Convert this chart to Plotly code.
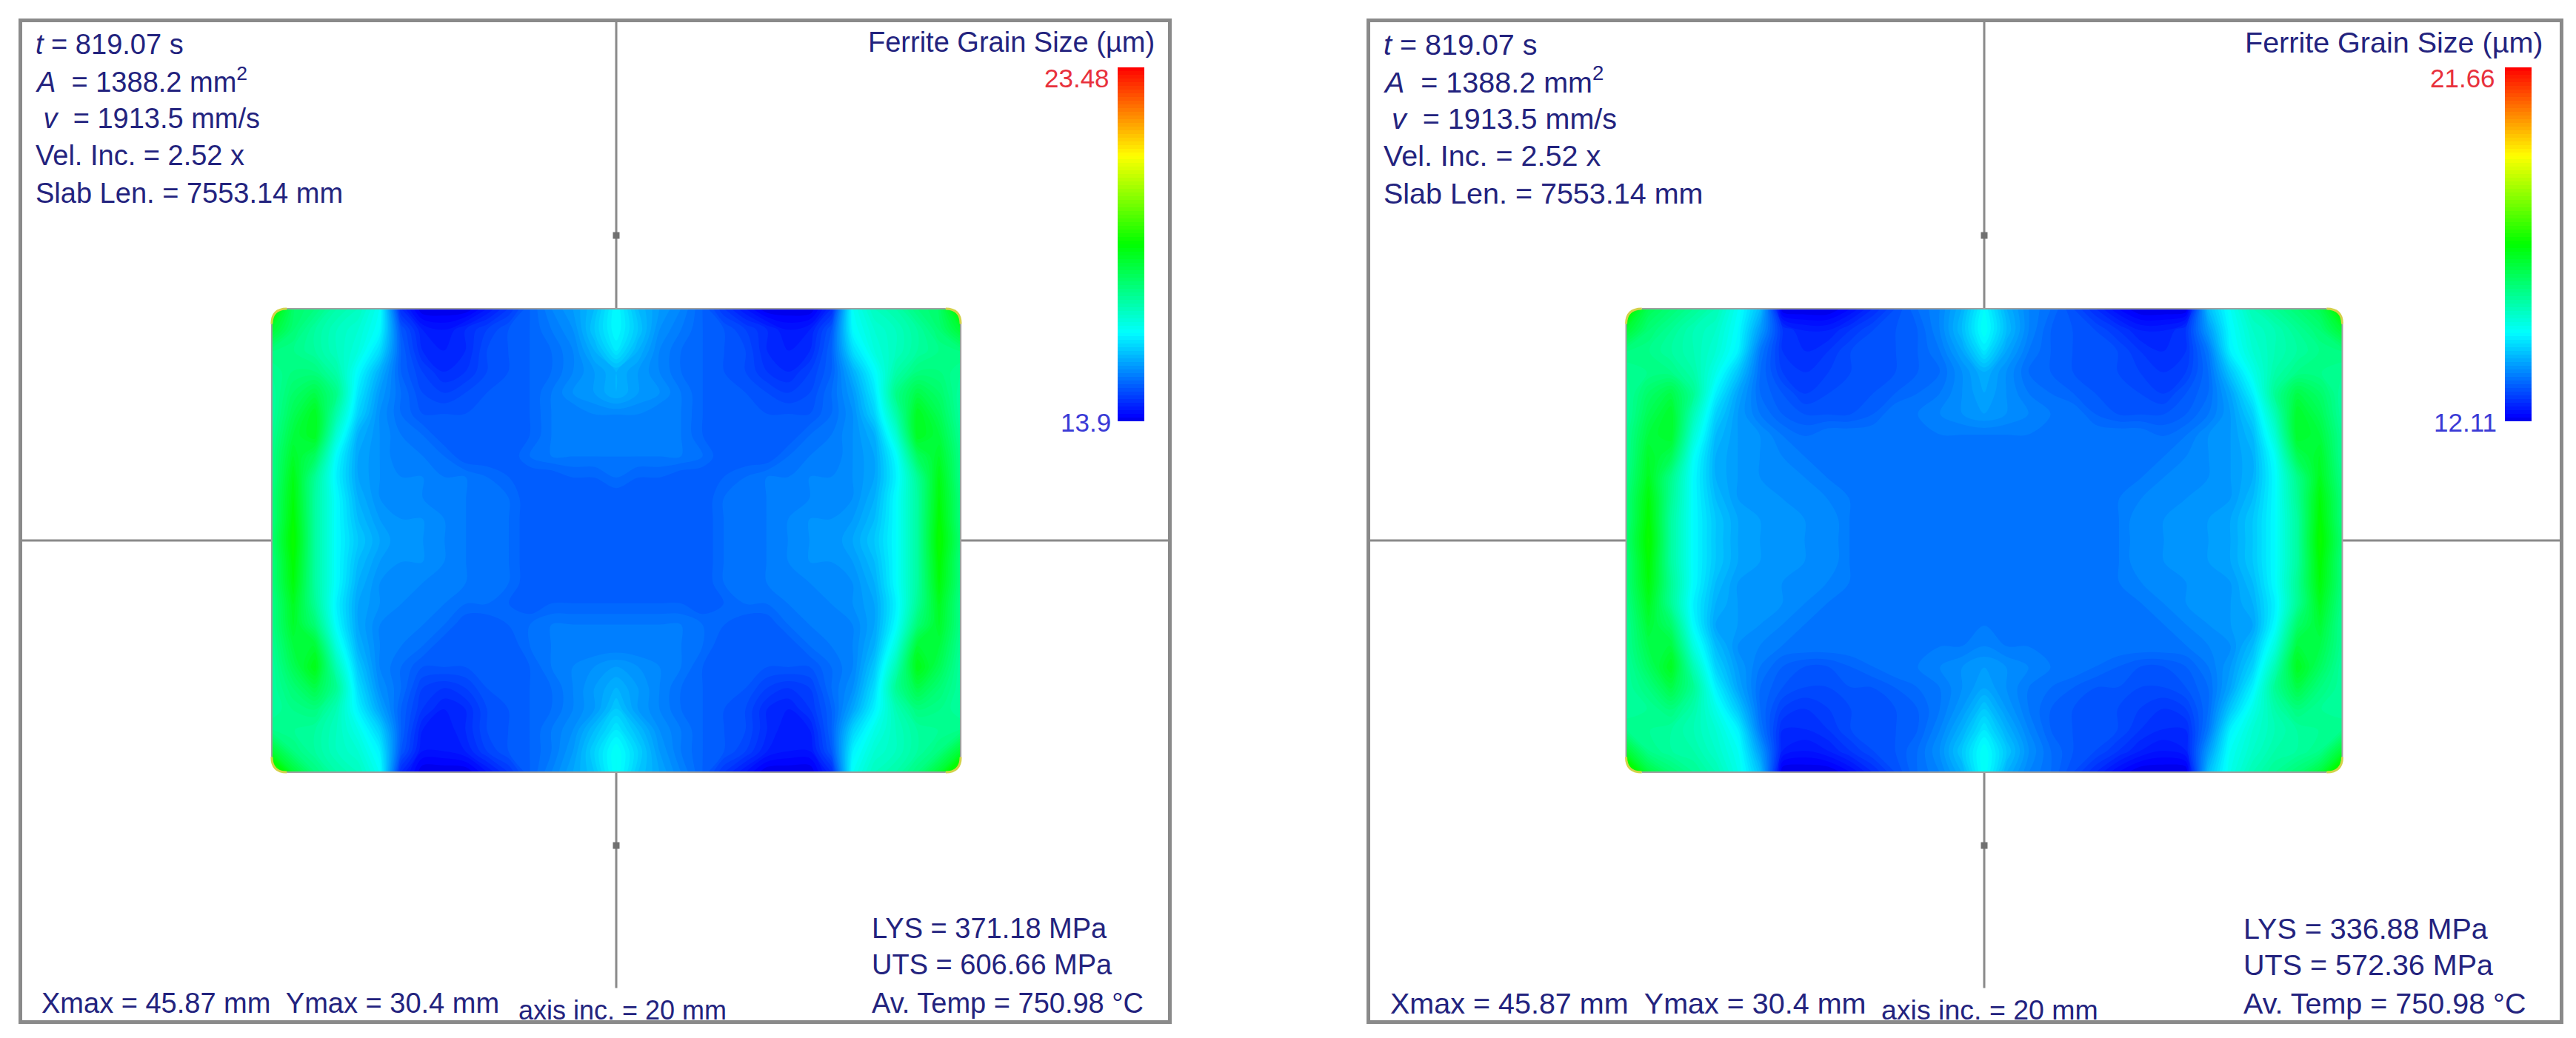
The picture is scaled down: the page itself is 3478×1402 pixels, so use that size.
import numpy as np
import plotly.graph_objects as go

W, H = 3478, 1402

# physical section half sizes and the readouts printed on each panel
x_max = 45.87
y_max = 30.4
header_lines = ["<i>t</i> = 819.07 s", "<i>A</i>  = 1388.2 mm<sup>2</sup>", " <i>v</i>  = 1913.5 mm/s",
                "Vel. Inc. = 2.52 x", "Slab Len. = 7553.14 mm"]
size_text = "Xmax = 45.87 mm  Ymax = 30.4 mm"
axis_inc_text = "axis inc. = 20 mm"
bar_title = "Ferrite Grain Size (µm)"
temp_text = "Av. Temp = 750.98 °C"
lys_left, uts_left = "LYS = 371.18 MPa", "UTS = 606.66 MPa"
lys_right, uts_right = "LYS = 336.88 MPa", "UTS = 572.36 MPa"
left_min, left_max = 13.9, 23.48
right_min, right_max = 12.11, 21.66
axis_ticks_y = [-40, 40]

# grain size in um, rows top to bottom, columns from the left edge to the centre line
left_grain = [
    [19.0, 17.7, 17.5, 17.1, 16.9, 16.4, 14.4, 13.9, 13.9, 13.9, 14.2, 14.5, 14.9, 15.2, 15.4, 15.7, 16.3],
    [18.2, 17.6, 17.2, 16.9, 16.7, 16.3, 14.8, 14.3, 14.2, 14.4, 14.6, 14.8, 14.9, 15.1, 15.3, 15.8, 16.3],
    [17.5, 17.4, 17.2, 16.9, 16.6, 16.0, 14.9, 14.4, 14.3, 14.4, 14.7, 14.8, 14.9, 15.0, 15.2, 15.6, 16.1],
    [17.3, 17.5, 17.5, 17.1, 16.3, 15.6, 14.9, 14.6, 14.4, 14.5, 14.7, 14.8, 14.9, 15.0, 15.2, 15.4, 15.6],
    [17.2, 17.7, 18.0, 17.4, 16.1, 15.4, 15.0, 14.7, 14.6, 14.7, 14.8, 14.8, 14.9, 15.1, 15.3, 15.4, 15.6],
    [17.2, 17.9, 18.4, 17.1, 15.9, 15.3, 15.0, 14.8, 14.8, 14.8, 14.8, 14.8, 14.9, 15.1, 15.1, 15.2, 15.2],
    [17.3, 18.1, 18.4, 16.7, 15.6, 15.3, 15.1, 15.0, 14.8, 14.8, 14.8, 14.8, 14.9, 15.1, 15.1, 15.1, 15.1],
    [17.4, 18.3, 17.8, 16.3, 15.5, 15.3, 15.1, 15.1, 15.0, 14.8, 14.8, 14.8, 15.0, 15.1, 15.1, 15.1, 15.1],
    [17.4, 18.5, 17.3, 16.2, 15.5, 15.3, 15.2, 15.2, 15.1, 15.1, 15.0, 14.9, 14.8, 14.8, 14.9, 14.9, 15.0],
    [17.5, 18.6, 17.2, 16.3, 15.6, 15.3, 15.2, 15.2, 15.1, 15.1, 15.0, 15.0, 14.8, 14.8, 14.8, 14.8, 14.8],
    [17.5, 18.7, 17.2, 16.3, 15.7, 15.4, 15.3, 15.3, 15.2, 15.1, 15.0, 15.0, 14.8, 14.8, 14.8, 14.8, 14.8],
    [17.6, 18.8, 17.2, 16.3, 15.8, 15.5, 15.3, 15.3, 15.2, 15.1, 15.0, 15.0, 14.8, 14.8, 14.8, 14.8, 14.8],
    [17.5, 18.7, 17.2, 16.3, 15.7, 15.4, 15.3, 15.3, 15.2, 15.1, 15.0, 15.0, 14.8, 14.8, 14.8, 14.8, 14.8],
    [17.5, 18.6, 17.2, 16.3, 15.6, 15.3, 15.2, 15.2, 15.1, 15.1, 15.0, 15.0, 14.8, 14.8, 14.8, 14.8, 14.8],
    [17.4, 18.4, 17.3, 16.2, 15.5, 15.3, 15.2, 15.1, 15.1, 15.0, 15.0, 14.9, 14.8, 14.9, 14.9, 14.9, 14.9],
    [17.4, 18.3, 17.6, 16.3, 15.5, 15.2, 15.1, 15.1, 15.0, 14.8, 14.8, 14.9, 15.0, 15.1, 15.1, 15.1, 15.1],
    [17.3, 18.1, 18.2, 16.6, 15.6, 15.2, 15.1, 15.0, 14.8, 14.8, 14.8, 14.8, 15.0, 15.1, 15.1, 15.1, 15.1],
    [17.2, 17.9, 18.5, 17.0, 15.8, 15.2, 15.0, 14.8, 14.8, 14.8, 14.8, 14.8, 14.9, 15.1, 15.2, 15.3, 15.4],
    [17.2, 17.6, 18.0, 17.3, 16.0, 15.3, 15.0, 14.6, 14.5, 14.6, 14.8, 14.8, 14.9, 15.0, 15.2, 15.4, 15.6],
    [17.2, 17.4, 17.5, 17.0, 16.2, 15.5, 14.9, 14.5, 14.3, 14.4, 14.7, 14.8, 14.9, 15.0, 15.2, 15.4, 15.8],
    [17.4, 17.3, 17.2, 16.9, 16.5, 15.9, 14.9, 14.3, 14.2, 14.4, 14.7, 14.8, 14.9, 15.1, 15.3, 15.7, 16.1],
    [18.2, 17.5, 17.2, 16.9, 16.7, 16.2, 14.8, 14.2, 14.2, 14.3, 14.6, 14.8, 14.9, 15.1, 15.4, 15.9, 16.4],
    [19.4, 18.2, 17.5, 17.1, 16.9, 16.4, 14.4, 13.9, 13.9, 13.9, 14.2, 14.5, 14.9, 15.2, 15.5, 15.8, 16.4],
]

right_grain = [
    [17.2, 16.1, 15.8, 15.5, 15.2, 14.6, 13.9, 12.1, 12.1, 12.1, 12.3, 12.6, 12.9, 13.2, 13.4, 13.8, 14.5],
    [16.4, 15.8, 15.5, 15.2, 15.0, 14.5, 13.6, 12.7, 12.5, 12.5, 12.7, 12.9, 13.0, 13.1, 13.4, 13.9, 14.6],
    [15.7, 15.6, 15.4, 15.2, 14.9, 14.4, 13.3, 12.7, 12.6, 12.7, 12.9, 13.0, 13.0, 13.1, 13.3, 13.7, 14.3],
    [15.5, 15.6, 15.6, 15.3, 14.7, 14.0, 13.2, 12.8, 12.7, 12.8, 12.9, 13.0, 13.0, 13.1, 13.2, 13.5, 13.8],
    [15.4, 15.9, 16.2, 15.5, 14.4, 13.7, 13.2, 13.0, 12.8, 12.9, 13.0, 13.0, 13.1, 13.2, 13.3, 13.5, 13.7],
    [15.4, 16.1, 16.5, 15.2, 14.1, 13.6, 13.3, 13.1, 13.0, 13.0, 13.0, 13.1, 13.3, 13.3, 13.4, 13.5, 13.6],
    [15.5, 16.3, 16.5, 14.9, 13.9, 13.6, 13.5, 13.3, 13.2, 13.3, 13.3, 13.3, 13.3, 13.3, 13.3, 13.3, 13.3],
    [15.5, 16.5, 16.1, 14.6, 13.8, 13.6, 13.5, 13.4, 13.3, 13.3, 13.3, 13.3, 13.3, 13.3, 13.3, 13.3, 13.3],
    [15.6, 16.6, 15.6, 14.5, 13.8, 13.6, 13.5, 13.5, 13.4, 13.3, 13.3, 13.3, 13.3, 13.3, 13.3, 13.3, 13.3],
    [15.7, 16.8, 15.5, 14.5, 13.9, 13.6, 13.6, 13.5, 13.5, 13.4, 13.3, 13.3, 13.3, 13.3, 13.3, 13.3, 13.3],
    [15.7, 16.9, 15.4, 14.5, 14.0, 13.7, 13.6, 13.6, 13.5, 13.5, 13.3, 13.3, 13.3, 13.3, 13.3, 13.3, 13.3],
    [15.8, 17.0, 15.4, 14.5, 14.0, 13.7, 13.6, 13.6, 13.5, 13.5, 13.3, 13.3, 13.3, 13.3, 13.3, 13.3, 13.3],
    [15.7, 16.9, 15.4, 14.5, 14.0, 13.7, 13.6, 13.6, 13.5, 13.5, 13.3, 13.3, 13.3, 13.3, 13.3, 13.3, 13.3],
    [15.7, 16.8, 15.5, 14.5, 13.9, 13.6, 13.6, 13.5, 13.5, 13.4, 13.3, 13.3, 13.3, 13.3, 13.3, 13.3, 13.3],
    [15.6, 16.6, 15.5, 14.4, 13.8, 13.6, 13.6, 13.5, 13.4, 13.3, 13.3, 13.3, 13.3, 13.3, 13.3, 13.3, 13.3],
    [15.5, 16.4, 15.9, 14.5, 13.7, 13.6, 13.5, 13.4, 13.3, 13.3, 13.3, 13.3, 13.3, 13.3, 13.3, 13.3, 13.3],
    [15.5, 16.2, 16.3, 14.8, 13.9, 13.5, 13.4, 13.3, 13.3, 13.3, 13.3, 13.3, 13.3, 13.3, 13.3, 13.3, 13.4],
    [15.4, 16.0, 16.6, 15.2, 14.1, 13.6, 13.3, 13.1, 13.0, 13.0, 13.1, 13.2, 13.3, 13.3, 13.4, 13.5, 13.6],
    [15.4, 15.7, 16.2, 15.5, 14.4, 13.7, 13.2, 13.0, 12.9, 12.9, 13.0, 13.0, 13.1, 13.2, 13.3, 13.5, 13.7],
    [15.4, 15.5, 15.7, 15.3, 14.7, 14.0, 13.2, 12.8, 12.7, 12.8, 12.9, 13.0, 13.0, 13.1, 13.3, 13.6, 14.0],
    [15.6, 15.5, 15.4, 15.2, 14.9, 14.4, 13.3, 12.6, 12.6, 12.7, 12.9, 13.0, 13.0, 13.1, 13.4, 13.8, 14.3],
    [16.4, 15.6, 15.4, 15.3, 15.0, 14.6, 13.6, 12.5, 12.4, 12.5, 12.7, 12.9, 13.0, 13.2, 13.5, 14.0, 14.6],
    [17.5, 16.3, 15.8, 15.5, 15.2, 14.7, 13.9, 12.1, 12.1, 12.1, 12.3, 12.6, 12.9, 13.2, 13.4, 13.8, 14.6],
]

GREY = "#8a8a8a"
NAVY = "#23237e"
rainbow = [[0, "#0000e0"], [0.012, "#0000ff"], [0.25, "#00ffff"], [0.5, "#00ff00"], [0.75, "#ffff00"], [1, "#ff0000"]]


def px(x):
    return x / W


def py(y):
    return 1 - y / H


# pixel layout of each panel: frame, section centre, colour bar
panels = [
    dict(frame=(30, 1577), cx=832, sx=10.14, bar=1509, ax="x", ay="y", grain=left_grain, lo=left_min, hi=left_max,
         lys=lys_left, uts=uts_left, text_x=46, size_x=54, inc_x=698, stat_x=1175, title_r=1561, label_r=1500,
         font=38),
    dict(frame=(1850, 3456), cx=2679, sx=10.54, bar=3382, ax="x2", ay="y2", grain=right_grain, lo=right_min, hi=right_max,
         lys=lys_right, uts=uts_right, text_x=1866, size_x=1875, inc_x=2538, stat_x=3027, title_r=3435, label_r=3371,
         font=39.5),
]
top, bottom, cy, sy = 30, 1378, 730, 10.3

fig = go.Figure()
annotations = []
shapes = []


def label(x, y, text, size, anchor="left", color=NAVY):
    annotations.append(dict(x=px(x), y=py(y), xref="paper", yref="paper", text=text, showarrow=False,
                            xanchor=anchor, yanchor="middle", align=anchor,
                            font=dict(family="Liberation Sans", size=size, color=color)))


for p in panels:
    x_lo = (p["frame"][0] - p["cx"]) / p["sx"]
    x_hi = (p["frame"][1] - p["cx"]) / p["sx"]
    y_hi = (cy - top) / sy
    y_lo = (cy - bottom) / sy

    # crosshair stops at the section outline
    fig.add_trace(go.Scatter(x=[x_lo, -x_max, None, x_max, x_hi], y=[0, 0, None, 0, 0], mode="lines",
                             line=dict(color=GREY, width=3),
                             xaxis=p["ax"], yaxis=p["ay"], showlegend=False, hoverinfo="skip"))
    fig.add_trace(go.Scatter(x=[0, 0, None, 0, 0], y=[y_hi, y_max, None, -y_max, -58.7], mode="lines",
                             line=dict(color=GREY, width=3),
                             xaxis=p["ax"], yaxis=p["ay"], showlegend=False, hoverinfo="skip"))
    fig.add_trace(go.Scatter(x=[0] * len(axis_ticks_y), y=axis_ticks_y, mode="markers",
                             marker=dict(symbol="square", size=9, color="#707070"),
                             xaxis=p["ax"], yaxis=p["ay"], showlegend=False, hoverinfo="skip"))

    z = [row + row[-2::-1] for row in p["grain"]]
    ny, nx = len(z), len(z[0])
    fig.add_trace(go.Contour(
        z=z,
        x=np.linspace(-x_max, x_max, nx),
        y=np.linspace(y_max, -y_max, ny),
        zmin=p["lo"], zmax=p["hi"], colorscale=rainbow,
        autocontour=False,
        contours=dict(coloring="fill", showlines=False, start=p["lo"], end=p["hi"], size=(p["hi"] - p["lo"]) / 96),
        line=dict(width=0),
        xaxis=p["ax"], yaxis=p["ay"],
        colorbar=dict(x=px(p["bar"]), xanchor="left", y=py(569), yanchor="bottom", len=(569 - 91) / H,
                      thickness=36, xpad=0, ypad=0, outlinewidth=0, showticklabels=False, ticks=""),
    ))

    # section outline, rounded corners masked in white
    r = 2.0
    rx, ry = x_max, y_max
    outline = (f"M {-rx + r} {ry} L {rx - r} {ry} Q {rx} {ry} {rx} {ry - r} L {rx} {-ry + r} "
               f"Q {rx} {-ry} {rx - r} {-ry} L {-rx + r} {-ry} Q {-rx} {-ry} {-rx} {-ry + r} "
               f"L {-rx} {ry - r} Q {-rx} {ry} {-rx + r} {ry} Z")
    shapes.append(dict(type="path", path=outline, xref=p["ax"], yref=p["ay"], line=dict(color="#a0a0a0", width=2)))
    for sgx, sgy in [(-1, 1), (1, 1), (-1, -1), (1, -1)]:
        corner = (f"M {sgx * (rx + 0.4)} {sgy * (ry + 0.4)} L {sgx * (rx - r)} {sgy * (ry + 0.4)} "
                  f"L {sgx * (rx - r)} {sgy * ry} Q {sgx * rx} {sgy * ry} {sgx * rx} {sgy * (ry - r)} "
                  f"L {sgx * (rx + 0.4)} {sgy * (ry - r)} Z")
        shapes.append(dict(type="path", path=corner, xref=p["ax"], yref=p["ay"], fillcolor="white", line_width=0))
        edge = (f"M {sgx * (rx - r)} {sgy * ry} Q {sgx * rx} {sgy * ry} {sgx * rx} {sgy * (ry - r)}")
        shapes.append(dict(type="path", path=edge, xref=p["ax"], yref=p["ay"], line=dict(color="#d2d24a", width=3)))

    fs = p["font"]
    for text, y in zip(header_lines, [60, 108, 160, 210, 261]):
        label(p["text_x"], y, text, fs)
    label(p["title_r"], 57, bar_title, fs, anchor="right")
    label(p["label_r"], 105, f'{p["hi"]:g}', 35, anchor="right", color="#e8313c")
    label(p["label_r"] + 2, 570, f'{p["lo"]:g}', 35, anchor="right", color="#3a3ad6")
    label(p["stat_x"], 1254, p["lys"], fs)
    label(p["stat_x"], 1303, p["uts"], fs)
    label(p["stat_x"], 1355, temp_text, fs)
    label(p["size_x"], 1355, size_text, fs)
    label(p["inc_x"], 1364, axis_inc_text, fs - 2)

    axis_style = dict(showgrid=False, zeroline=False, showticklabels=False, ticks="",
                      showline=True, mirror=True, linecolor=GREY, linewidth=5)
    fig.update_layout({
        "xaxis" + p["ax"][1:]: dict(domain=[px(p["frame"][0]), px(p["frame"][1])], range=[x_lo, x_hi],
                                    anchor=p["ay"], **axis_style),
        "yaxis" + p["ay"][1:]: dict(domain=[py(bottom), py(top)], range=[y_lo, y_hi],
                                    anchor=p["ax"], **axis_style),
    })

fig.update_layout(
    width=W, height=H,
    margin=dict(l=0, r=0, t=0, b=0),
    paper_bgcolor="white", plot_bgcolor="white",
    showlegend=False,
    annotations=annotations,
    shapes=shapes,
)

fig.write_html("out.html", config={"displayModeBar": False}, post_script="document.body.style.margin='0';")
